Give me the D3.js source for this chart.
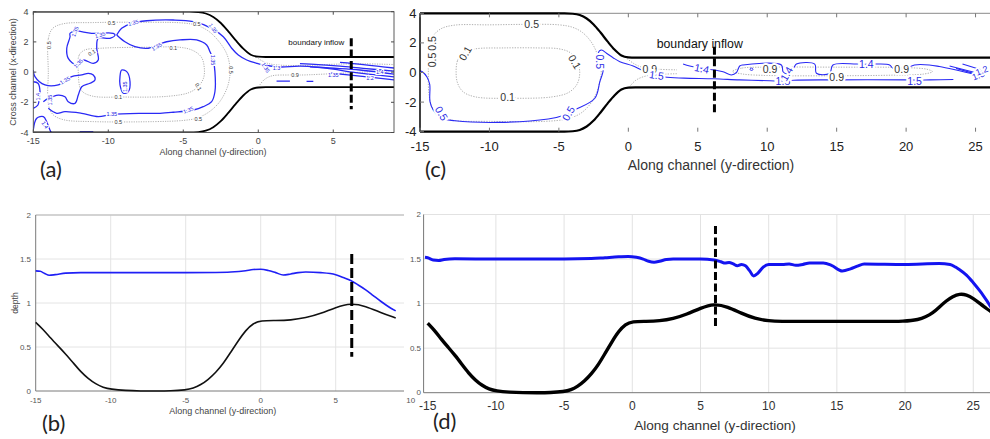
<!DOCTYPE html>
<html>
<head>
<meta charset="utf-8">
<title>Channel contours and depth profiles</title>
<script src="https://cdn.jsdelivr.net/npm/d3@7/dist/d3.min.js"></script>
<style>
  html, body { margin: 0; padding: 0; background: #fff; }
  svg { display: block; }
</style>
</head>
<body>
<svg id="fig" width="990" height="439"></svg>
<script>
// ---------------- tick values ----------------
const xTicksPlanA = [-15, -10, -5, 0, 5];
const xTicksLong = [-15, -10, -5, 0, 5, 10, 15, 20, 25];
const xTicksProfileB = [-15, -10, -5, 0, 5, 10];
const yTicksPlan = [-4, -2, 0, 2, 4];
const yTicksDepth = [0, 0.5, 1, 1.5, 2];

// ---------------- channel wall (upper side; lower side is its mirror) ----------------
const wallX = [-15, -4.6, -4, -3.5, -3, -2.5, -2, -1.5, -1, -0.5, 0, 0.5, 26.3];
const wallY = [4, 4, 3.97, 3.88, 3.65, 3.25, 2.7, 2.1, 1.55, 1.15, 1.02, 1, 1];

// ---------------- along-channel bed and water surface ----------------
const bedX = [-15,-14.5,-14,-13.5,-13,-12.5,-12,-11.5,-11,-10.5,-10,-9,-8,-7,-6,-5,-4.5,-4,-3.5,-3,
  -2.5,-2,-1.5,-1,-0.5,0,1,2,3,4,5,6,7,8,9,10,11,12,14,16,18,20,21,21.5,22,22.5,23,23.5,24,24.5,25,25.5,26,26.3];
const bedZ = [0.78,0.70,0.60,0.51,0.42,0.32,0.22,0.14,0.08,0.04,0.02,0.005,0,0,0,0.012,0.03,0.07,0.13,0.21,
  0.31,0.44,0.57,0.69,0.77,0.80,0.80,0.805,0.83,0.88,0.95,1.0,0.965,0.89,0.83,0.805,0.80,0.80,0.80,0.80,
  0.80,0.80,0.82,0.85,0.89,0.96,1.03,1.08,1.11,1.10,1.06,1.0,0.94,0.91];

const surfBX = [-15,-14.7,-14.4,-14.1,-13.7,-13,-12,-10,-5,-3,-2,-1,-0.5,0,0.5,1,1.5,2,2.5,3,4,5,5.5,6,6.5,7,7.5,8,8.5,9];
const surfBZ = [1.365,1.36,1.335,1.315,1.322,1.34,1.345,1.345,1.345,1.347,1.352,1.367,1.38,1.383,1.37,1.345,1.318,1.33,1.345,1.352,
  1.345,1.322,1.29,1.255,1.205,1.15,1.085,1.02,0.96,0.91];

const surfDX = [-15.2,-15,-14.6,-14.2,-13.8,-13,-10,-5,-3,-2,-1,-0.3,0.3,0.8,1.2,1.6,2,2.5,3,5,
  6,6.5,6.8,7.1,7.4,7.7,8,8.3,8.6,8.9,9.2,9.6,10,11,11.5,12,12.5,13,14,14.6,
  15.4,16,16.5,17,20,22.5,23.3,23.7,24,24.5,25,25.5,26,26.3];
const surfDZ = [1.52,1.515,1.49,1.485,1.495,1.502,1.5,1.5,1.505,1.515,1.525,1.53,1.52,1.5,1.475,1.465,1.475,1.495,1.5,1.5,
  1.49,1.47,1.455,1.46,1.445,1.425,1.44,1.425,1.37,1.31,1.34,1.41,1.44,1.44,1.445,1.43,1.44,1.455,1.455,1.43,
  1.366,1.39,1.42,1.445,1.44,1.45,1.44,1.41,1.38,1.32,1.235,1.14,1.03,0.96];

// ---------------- boundary inflow markers (x, y0, y1) ----------------
const inflowA = [6.2, 2.24, -2.46];
const inflowB = [6.07, 1.557, 0.39];
const inflowC = [6.2, 1.74, -2.72];
const inflowD = [6.1, 1.87, 0.71];

// ---------------- contour traces, panel (a) ----------------
const a05Loop = [[-14.0,0],[-14.0,2.2],[-13.7,2.9],[-13.0,3.2],[-11,3.28],[-7,3.3],[-5,3.25],[-4.1,3.1],[-3.3,2.7],[-2.6,2.0],
  [-2.1,1.2],[-1.9,0.4],[-1.9,-0.3],[-2.1,-1.1],[-2.6,-2.0],[-3.3,-2.65],[-4.1,-3.05],[-5,-3.2],[-7,-3.28],[-11,-3.28],
  [-13,-3.15],[-13.7,-2.8],[-14,-2.1]];
const a01Loop = [[-12,0],[-11.95,1.1],[-11.6,1.45],[-10.5,1.58],[-7,1.65],[-5.3,1.65],[-4.4,1.45],[-3.8,1.0],[-3.6,0.3],
  [-3.65,-0.4],[-4.0,-0.95],[-4.6,-1.35],[-6,-1.6],[-9,-1.65],[-11.1,-1.58],[-11.8,-1.2]];
const a09Lower = [[0.1,-0.85],[0.4,-0.5],[0.9,-0.25],[2.0,-0.19],[3,-0.19],[4,-0.15],[6,-0.05],[8,0.05],[9.05,0.1]];
const a09Upper = [[0.0,0.9],[0.5,0.62],[1.2,0.48],[3,0.44],[5,0.52],[7,0.55],[9.05,0.5]];

const a135Outer = [[-9.44,2.46],[-9.11,2.90],[-8.44,3.23],[-7.44,3.40],[-5.67,3.45],[-4.33,3.34],[-3.11,2.90],[-2.33,2.34],
  [-1.77,1.58],[-1.33,1.13],[-0.77,0.80],[-0.11,0.58],[0.33,0.47],[1.45,0.34],[2.78,0.40],[4.78,0.27],[6.78,0.14],[9.05,-0.13]];
const a135Inner = [[-9.44,2.46],[-8.89,2.01],[-8.22,1.68],[-7.33,1.58],[-6.44,1.91],[-6.11,2.01],[-5.22,2.13],[-4.11,2.13],
  [-3.44,1.79],[-3.22,1.35],[-3.0,0.8],[-2.89,0.03],[-2.89,-1.30],[-3.11,-1.96],[-3.67,-2.29],[-4.33,-2.51],[-5.67,-2.66],
  [-6.55,-2.73],[-7.67,-2.73],[-9.77,-2.8],[-10.67,-2.95],[-11.77,-2.73],[-12.89,-2.62],[-13.44,-2.73],[-14.0,-2.40]];
const a135Blob = [[-12.55,2.57],[-12.22,2.72],[-11.11,2.57],[-9.67,2.57],[-9.55,2.46],[-9.89,2.24],[-10.67,2.24],[-10.77,1.58],
  [-10.67,0.80],[-11.0,0.58],[-11.67,0.80],[-12.11,0.47],[-12.67,0.91],[-12.77,1.58],[-12.55,2.34]];
const a135Left = [[-15,0.14],[-14.89,-0.30],[-14.22,-0.85],[-13.33,-0.85],[-12.89,-0.6],[-12.44,-0.30],[-11.77,-0.19],
  [-11.33,-0.08],[-11.0,-0.19],[-10.89,-0.52],[-11.22,-0.74],[-11.77,-0.97],[-12.0,-1.52],[-12.22,-2.07],[-12.67,-1.96],
  [-12.89,-1.63],[-13.33,-1.52],[-14.0,-1.74],[-14.33,-1.96]];
const a135Island = [[-9.11,0.14],[-8.77,0.03],[-8.55,-0.64],[-8.67,-1.30],[-9.0,-1.40],[-9.22,-0.85],[-9.22,-0.30]];
const a14Edge = [[-15,-0.64],[-14.69,-0.74],[-14.55,-1.30],[-14.6,-1.7],[-14.69,-2.18],[-15,-2.40]];
const a14Corner = [[-15,-3.83],[-14.77,-3.06],[-14.33,-2.95],[-14.1,-3.3],[-13.89,-3.83],[-13.8,-4]];
const a14Floor = [[-11.9,-3.96],[-11.0,-3.96]];
const aChan1 = [[2.78,0.56],[4,0.5],[5.45,0.40],[7,0.25],[9.05,0.07]];
const aChan2 = [[3.45,0.34],[5,0.2],[6.11,0.01],[7.5,-0.15],[9.05,-0.32]];
const aChan3 = [[4.78,-0.06],[6.78,-0.26],[9.05,-0.52]];
const aChan4 = [[5.45,0.64],[7,0.5],[9.05,0.27]];
const aDash1 = [[1.22,-0.6],[2.11,-0.6]];
const aDash2 = [[3.22,-0.62],[3.67,-0.62]];

// label: [x, y, text, angle]
const aGrayLabels = [[-9.78,3.27,"0.5",0],[-4.1,3.19,"0.5",0],[-13.95,1.79,"0.5",-90],[-1.8,0.14,"0.5",90],
  [-9.33,-3.28,"0.5",0],[-4.0,-3.1,"0.5",0],[-5.67,1.62,"0.1",0],[-11.1,1.29,"0.1",-30],[-4.0,-0.97,"0.1",60],
  [-9.33,-1.63,"0.1",0],[2.45,-0.19,"0.9",0]];
const aBlueLabels = [[-8.33,3.27,"1.35",-15],[-3.0,2.9,"1.35",55],[-6.77,1.68,"1.35",-30],[-3.0,0.80,"1.35",90],
  [-4.67,-2.51,"1.35",-20],[-9.77,-2.8,"1.35",0],[-12.22,2.68,"1.35",-70],[-10.55,2.46,"1.35",-15],[-12.0,0.58,"1.35",-45],
  [-12.89,-0.55,"1.35",-30],[-13.89,-1.85,"1.35",-90],[-8.89,-0.97,"1.35",-90],[-14.69,-1.63,"1.4",-90],[-14.22,-3.5,"1.4",60],
  [0.5,0.3,"1.35",60],[1.22,0.3,"1.3",0],[5.0,-0.19,"1.35",0],[7.45,-0.41,"1.2",0],[8.1,0.03,"1.4",0]];

// ---------------- contour traces, panel (c) ----------------
const c05Loop = [[-14.4,0],[-14.35,1.5],[-14.1,2.4],[-13.5,2.95],[-12.5,3.2],[-10,3.22],[-7.5,3.25],[-5,3.22],[-4,3.05],
  [-3.3,2.7],[-2.7,2.1],[-2.3,1.4],[-2.05,0.6],[-1.95,0],[-2.05,-0.6],[-2.3,-1.4],[-2.8,-2.2],[-3.5,-2.8],[-4.5,-3.15],
  [-6,-3.3],[-10,-3.3],[-12.5,-3.25],[-13.5,-3],[-14.1,-2.4],[-14.35,-1.5]];
const c01Loop = [[-12.4,0],[-12.3,0.8],[-11.9,1.35],[-11,1.6],[-9,1.66],[-6.5,1.66],[-5,1.6],[-4.2,1.35],[-3.7,0.8],
  [-3.5,0],[-3.7,-0.8],[-4.3,-1.35],[-5.5,-1.65],[-8.5,-1.74],[-11,-1.65],[-11.9,-1.3],[-12.3,-0.7]];
const c09Loop = [[7.5,0.08],[8.2,0.3],[10,0.36],[15,0.36],[20,0.33],[21.5,0.22],[21.9,0.06],[21.3,-0.1],[19,-0.18],
  [15,-0.22],[10,-0.2],[8.2,-0.1]];
const c09Upper = [[-0.1,0.95],[0.4,0.6],[1.0,0.35],[2.2,0.22],[3.5,0.18]];
const c09Lower = [[0.1,-0.95],[0.5,-0.55],[1.1,-0.28],[2,-0.15],[3.5,-0.08]];

const c15Main = [[-15,0.12],[-14.83,0.05],[-14.5,-0.3],[-14.3,-0.8],[-14.28,-1.97],[-14.05,-2.53],[-13.44,-3.09],
  [-12.48,-3.26],[-9.37,-3.37],[-5.77,-3.14],[-4.57,-2.87],[-3.85,-2.53],[-2.41,-1.74],[-2.05,-0.62],[-1.81,0.17],
  [-1.93,0.62],[-2.17,1.30],[-1.93,1.52],[-1.57,1.30],[-1.1,1.0],[-0.61,0.73],[0.35,0.44],[1.0,0.15],[1.55,-0.05],
  [2.6,-0.3],[4,-0.38],[6.15,-0.42],[8,-0.5],[10.2,-0.56],[11.1,-0.58],[11.9,-0.52],[15,-0.5],[20.1,-0.5],
  [20.9,-0.52],[21.7,-0.5],[23.4,-0.47]];
const c14Upper = [[3.94,0.57],[4.42,0.44],[5.29,0.28],[6.22,0.17],[6.82,0.05],[7.42,-0.17],[7.78,-0.01],[8.02,0.44],
  [8.26,0.51],[11.02,0.51],[11.14,0.05],[11.38,-0.08],[11.9,0.3],[12.1,0.57],[13.42,0.57],[13.54,-0.05],[14.5,-0.05],
  [14.73,0.51],[16.42,0.57],[17.14,0.55],[17.86,0.57],[18.81,0.51],[19.05,0.28],[19.53,0.21],[20.0,0.28],[20.6,0.51],
  [21.67,0.51],[22.4,0.4],[25.3,-0.2]];
const c14Dot = [[8.75,0.22],[8.87,0.3],[8.99,0.22],[8.87,0.14]];
const cOutlet1 = [[23.13,0.44],[25.17,-0.05]];
const cOutlet2 = [[23.6,0.28],[25.65,-0.28]];
const cOutlet3 = [[24.06,0.57],[25.86,0.05]];

const cGrayLabels = [[-6.96,3.26,"0.5",0],[-14.16,0.85,"0.5",-90],[-14.16,1.97,"0.5",-90],[-11.76,1.3,"0.1",-60],
  [-3.85,0.73,"0.1",60],[-8.69,-1.68,"0.1",0],[1.55,0.22,"0.9",0],[10.2,0.22,"0.9",0],[15.0,-0.32,"0.9",0],[19.68,0.22,"0.9",0]];
const cBlueLabels = [[-2.05,0.73,"0.5",90],[-13.44,-2.76,"0.5",60],[-4.33,-2.76,"0.5",-60],[2.03,-0.17,"1.5",8],
  [11.13,-0.6,"1.5",0],[20.61,-0.6,"1.5",0],[5.29,0.28,"1.4",12],[11.38,-0.08,"1.4",-60],[17.14,0.55,"1.4",0],
  [25.2,-0.2,"1.3",-20],[25.45,0.12,"1.2",-20]];

// ---------------- drawing ----------------
const SANS = "'Liberation Sans', Arial, Helvetica, sans-serif";
const BLUE = "#2a2af5";
const svg = d3.select("#fig");
const pts = (xs, ys) => xs.map((x, i) => [x, ys[i]]);
const mirror = p => p.map(([x, y]) => [x, -y]);
const fmt = d => String(d);

function clip(id, x0, y0, x1, y1) {
  svg.append("clipPath").attr("id", id).append("rect")
    .attr("x", x0).attr("y", y0).attr("width", x1 - x0).attr("height", y1 - y0);
}

function traces(g, xs, ys, list, closed, stroke, width, dash) {
  const curve = closed ? d3.curveCatmullRomClosed.alpha(0.5) : d3.curveCatmullRom.alpha(0.5);
  const line = d3.line().x(d => xs(d[0])).y(d => ys(d[1])).curve(curve);
  g.selectAll(null).data(list).join("path")
    .attr("d", line).attr("fill", "none").attr("stroke", stroke)
    .attr("stroke-width", width).attr("stroke-dasharray", dash || null)
    .attr("stroke-linejoin", "round");
}

function labels(g, xs, ys, list, size, fill) {
  g.selectAll(null).data(list).join("text")
    .attr("transform", d => `translate(${xs(d[0])},${ys(d[1])}) rotate(${d[3]})`)
    .attr("text-anchor", "middle").attr("dominant-baseline", "central")
    .attr("font-family", SANS).attr("font-size", size).attr("fill", fill)
    .attr("stroke", "#fff").attr("stroke-width", size * 0.4).attr("paint-order", "stroke")
    .text(d => d[2]);
}

function walls(g, xs, ys, width) {
  const upper = pts(wallX, wallY);
  const line = d3.line().x(d => xs(d[0])).y(d => ys(d[1])).curve(d3.curveMonotoneX);
  [upper, mirror(upper)].forEach(p => g.append("path").attr("d", line(p))
    .attr("fill", "none").attr("stroke", "#000").attr("stroke-width", width));
}

function inflow(g, xs, ys, m, dash) {
  g.append("line").attr("x1", xs(m[0])).attr("x2", xs(m[0]))
    .attr("y1", ys(m[1])).attr("y2", ys(m[2]))
    .attr("stroke", "#000").attr("stroke-width", 3).attr("stroke-dasharray", dash);
}

function text(g, x, y, s, size, opts = {}) {
  return g.append("text").attr("x", x).attr("y", y).text(s)
    .attr("font-family", opts.family || SANS).attr("font-size", size)
    .attr("fill", opts.fill || "#333").attr("text-anchor", opts.anchor || "middle")
    .attr("dominant-baseline", opts.baseline || "central")
    .attr("transform", opts.rotate ? `rotate(${opts.rotate},${x},${y})` : null);
}

// ===== (b) depth profile, short reach =====
{
  const xs = d3.scaleLinear().domain([-15, 10]).range([35.7, 410.7]);
  const ys = d3.scaleLinear().domain([0, 2]).range([391, 215]);
  const g = svg.append("g");
  g.selectAll(null).data(xTicksProfileB.slice(1)).join("line")
    .attr("x1", xs).attr("x2", xs).attr("y1", ys(0)).attr("y2", ys(2)).attr("stroke", "#e4e4e4");
  g.selectAll(null).data(yTicksDepth.slice(1)).join("line")
    .attr("x1", xs(-15)).attr("x2", xs(10)).attr("y1", ys).attr("y2", ys).attr("stroke", "#e4e4e4");
  g.append("line").attr("x1", xs(-15)).attr("x2", xs(10)).attr("y1", ys(2)).attr("y2", ys(2)).attr("stroke", "#b5b5b5");
  g.append("line").attr("x1", xs(-15)).attr("x2", xs(10)).attr("y1", ys(0)).attr("y2", ys(0)).attr("stroke", "#7a7a7a");
  g.append("line").attr("x1", xs(-15)).attr("x2", xs(-15)).attr("y1", ys(0)).attr("y2", ys(2)).attr("stroke", "#7a7a7a");
  xTicksProfileB.forEach(t => text(g, xs(t), 400, fmt(t), 8, { fill: "#555" }));
  yTicksDepth.forEach(t => text(g, 31, ys(t), fmt(t), 8, { fill: "#555", anchor: "end" }));
  text(g, 222.7, 410.7, "Along channel (y-direction)", 9, { fill: "#444" });
  text(g, 15, 303, "depth", 8.5, { fill: "#444", rotate: -90 });
  const surf = d3.line().x(d => xs(d[0])).y(d => ys(d[1])).curve(d3.curveMonotoneX);
  const bed = d3.line().x(d => xs(d[0])).y(d => ys(d[1])).curve(d3.curveBasis);
  g.append("path").attr("d", surf(pts(surfBX, surfBZ))).attr("fill", "none").attr("stroke", "#1f1ff5").attr("stroke-width", 1.6);
  g.append("path").attr("d", bed(pts(bedX, bedZ).filter(d => d[0] <= 9))).attr("fill", "none").attr("stroke", "#111").attr("stroke-width", 1.6);
  inflow(g, xs, ys, inflowB, "10,4");
}

// ===== (d) depth profile, full reach =====
{
  svg.append("rect").attr("x", 404).attr("y", 204).attr("width", 586).attr("height", 190).attr("fill", "#fff");
  const xs = d3.scaleLinear().domain([-15.3, 26.3]).range([423.6, 991]);
  const ys = d3.scaleLinear().domain([0, 2]).range([392.7, 214.5]);
  const g = svg.append("g");
  g.selectAll(null).data(xTicksLong.slice(1)).join("line")
    .attr("x1", xs).attr("x2", xs).attr("y1", ys(0)).attr("y2", ys(2)).attr("stroke", "#e2e2e2");
  g.selectAll(null).data(yTicksDepth.slice(1)).join("line")
    .attr("x1", xs(-15.3)).attr("x2", 990).attr("y1", ys).attr("y2", ys).attr("stroke", "#e2e2e2");
  g.append("line").attr("x1", xs(-15.3)).attr("x2", 990).attr("y1", ys(0)).attr("y2", ys(0)).attr("stroke", "#777");
  g.append("line").attr("x1", xs(-15.3)).attr("x2", xs(-15.3)).attr("y1", ys(0)).attr("y2", ys(2)).attr("stroke", "#777");
  xTicksLong.forEach(t => text(g, xs(t), 406, fmt(t), 12, { fill: "#333" }));
  yTicksDepth.forEach(t => text(g, 421, ys(t), fmt(t), 8, { fill: "#555", anchor: "end" }));
  text(g, 715, 425, "Along channel (y-direction)", 13.6, { fill: "#333" });
  const surf = d3.line().x(d => xs(d[0])).y(d => ys(d[1])).curve(d3.curveMonotoneX);
  const bed = d3.line().x(d => xs(d[0])).y(d => ys(d[1])).curve(d3.curveBasis);
  g.append("path").attr("d", surf(pts(surfDX, surfDZ))).attr("fill", "none").attr("stroke", "#1414f0").attr("stroke-width", 3);
  g.append("path").attr("d", bed(pts(bedX, bedZ))).attr("fill", "none").attr("stroke", "#000").attr("stroke-width", 3.4);
  inflow(g, xs, ys, inflowD, "8,3.5");
}

// ===== (a) planform contours, short reach =====
{
  const xs = d3.scaleLinear().domain([-15, 9.05]).range([33.3, 394]);
  const ys = d3.scaleLinear().domain([-4, 4]).range([132.5, 11.7]);
  clip("clipA", xs(-15), ys(4), xs(9.05), ys(-4));
  const g = svg.append("g").attr("clip-path", "url(#clipA)");
  const gray = "#9c9c9c";
  traces(g, xs, ys, [a05Loop, a01Loop], true, gray, 0.8, "1.2,1.2");
  traces(g, xs, ys, [a09Lower, a09Upper], false, gray, 0.8, "1.2,1.2");
  traces(g, xs, ys, [a135Blob, a135Island], true, BLUE, 1.3);
  traces(g, xs, ys, [a135Outer, a135Inner, a135Left, a14Edge, a14Corner, a14Floor, aChan1, aChan2, aChan3, aChan4, aDash1, aDash2],
    false, BLUE, 1.3);
  labels(g, xs, ys, aGrayLabels, 5.5, "#333");
  labels(g, xs, ys, aBlueLabels, 5.5, "#2020e0");
  walls(g, xs, ys, 1.8);
  const f = svg.append("g");
  f.append("rect").attr("x", xs(-15)).attr("y", ys(4)).attr("width", xs(9.05) - xs(-15)).attr("height", ys(-4) - ys(4))
    .attr("fill", "none").attr("stroke", "#4a4a4a").attr("stroke-width", 0.9);
  xTicksPlanA.forEach(t => {
    f.append("line").attr("x1", xs(t)).attr("x2", xs(t)).attr("y1", ys(-4)).attr("y2", ys(-4) - 3).attr("stroke", "#4a4a4a");
    f.append("line").attr("x1", xs(t)).attr("x2", xs(t)).attr("y1", ys(4)).attr("y2", ys(4) + 3).attr("stroke", "#4a4a4a");
    text(f, xs(t), 141, fmt(t), 9, { fill: "#444" });
  });
  yTicksPlan.forEach(t => {
    f.append("line").attr("x1", xs(-15)).attr("x2", xs(-15) + 3).attr("y1", ys(t)).attr("y2", ys(t)).attr("stroke", "#4a4a4a");
    f.append("line").attr("x1", xs(9.05)).attr("x2", xs(9.05) - 3).attr("y1", ys(t)).attr("y2", ys(t)).attr("stroke", "#4a4a4a");
    text(f, 28.5, ys(t), fmt(t), 9, { fill: "#444", anchor: "end" });
  });
  inflow(f, xs, ys, inflowA, "8,3.3");
  text(f, 288.3, 42.7, "boundary inflow", 8, { fill: "#111", anchor: "start" });
  text(f, 213, 152, "Along channel (y-direction)", 9, { fill: "#444" });
  text(f, 13, 72, "Cross channel (x-direction)", 9, { fill: "#444", rotate: -90 });
}

// ===== (c) planform contours, full reach =====
{
  const xs = d3.scaleLinear().domain([-15, 26.04]).range([420, 990]);
  const ys = d3.scaleLinear().domain([-4, 4]).range([131.7, 13.3]);
  clip("clipC", xs(-15), ys(4), 990, ys(-4));
  const g = svg.append("g").attr("clip-path", "url(#clipC)");
  const gray = "#a8a8a8";
  traces(g, xs, ys, [c05Loop, c01Loop, c09Loop], true, gray, 0.9, "1.3,1.3");
  traces(g, xs, ys, [c09Upper, c09Lower], false, gray, 0.9, "1.3,1.3");
  traces(g, xs, ys, [c14Dot], true, BLUE, 1);
  traces(g, xs, ys, [c15Main, c14Upper, cOutlet1, cOutlet2, cOutlet3], false, BLUE, 1.1);
  labels(g, xs, ys, cGrayLabels, 10.5, "#333");
  labels(g, xs, ys, cBlueLabels.slice(0, -2), 10.5, "#2a2ae6");
  labels(g, xs, ys, cBlueLabels.slice(-2), 9, "#2a2ae6");
  const f = svg.append("g");
  f.append("line").attr("x1", xs(-15)).attr("x2", 990).attr("y1", ys(4)).attr("y2", ys(4)).attr("stroke", "#8a8a8a");
  walls(f, xs, ys, 2.2);
  f.append("line").attr("x1", xs(-15)).attr("x2", xs(-15)).attr("y1", ys(4)).attr("y2", ys(-4)).attr("stroke", "#111").attr("stroke-width", 1.6);
  xTicksLong.forEach(t => {
    f.append("line").attr("x1", xs(t)).attr("x2", xs(t)).attr("y1", ys(4)).attr("y2", ys(4) + 4).attr("stroke", "#777");
    f.append("line").attr("x1", xs(t)).attr("x2", xs(t)).attr("y1", ys(-4)).attr("y2", ys(-4) - 4).attr("stroke", "#777");
    text(f, xs(t), 146, fmt(t), 13, { fill: "#222" });
  });
  yTicksPlan.forEach(t => {
    f.append("line").attr("x1", xs(-15)).attr("x2", xs(-15) + 4).attr("y1", ys(t)).attr("y2", ys(t)).attr("stroke", "#777");
    text(f, 416.5, ys(t), fmt(t), 13, { fill: "#222", anchor: "end" });
  });
  inflow(f, xs, ys, inflowC, "8,3.5");
  text(f, 656.7, 44, "boundary inflow", 12.3, { fill: "#111", anchor: "start" });
  text(f, 711, 165, "Along channel (y-direction)", 14, { fill: "#333" });
}

// ===== panel letters =====
const LETTER = "Lato, 'Open Sans', sans-serif";
[["(a)", 40, 177], ["(c)", 425, 177], ["(b)", 42, 431], ["(d)", 433, 429]].forEach(([s, x, y]) =>
  text(svg, x, y, s, 22, { family: LETTER, fill: "#222", anchor: "start", baseline: "alphabetic" }));
</script>
</body>
</html>
